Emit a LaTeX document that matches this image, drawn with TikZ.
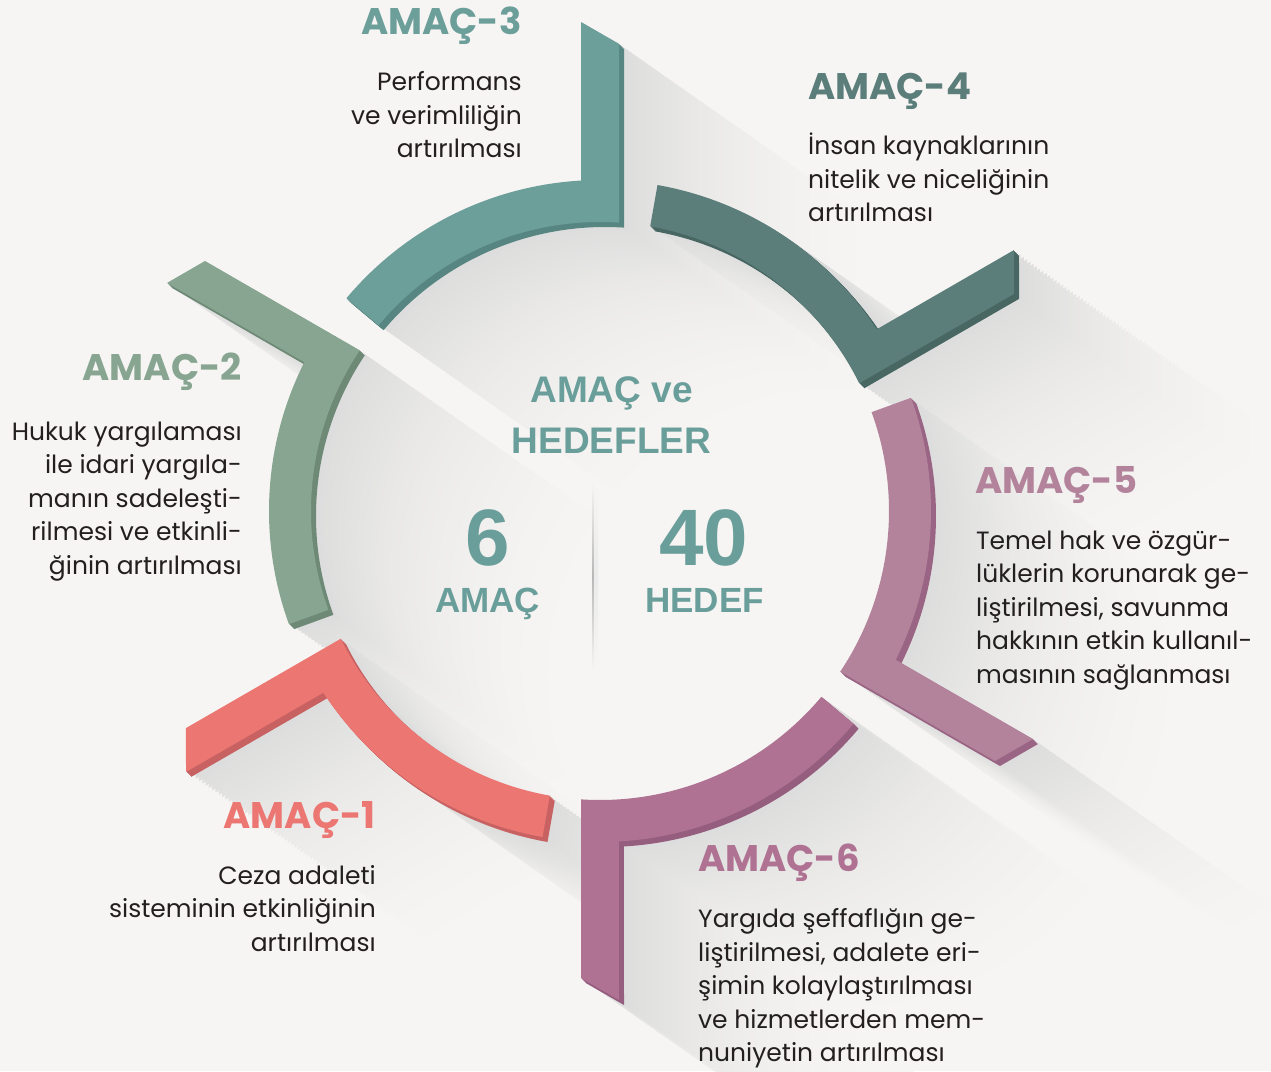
\documentclass[tikz,border=0pt]{standalone}
\usepackage{fontspec}
\setmainfont{Poppins}
\newfontfamily\numfont{Liberation Sans}
\definecolor{bg}{HTML}{F6F5F3}
\definecolor{shadowc}{HTML}{DCDCDC}
\definecolor{txt}{HTML}{231F20}
\definecolor{ctrc}{HTML}{6A9E9A}
\definecolor{cA}{HTML}{EC7672}\definecolor{dA}{HTML}{C86262}
\definecolor{cB}{HTML}{87A591}\definecolor{dB}{HTML}{6E8A77}
\definecolor{cC}{HTML}{6C9E9A}\definecolor{dC}{HTML}{578682}
\definecolor{cD}{HTML}{5B7E7A}\definecolor{dD}{HTML}{486763}
\definecolor{cE}{HTML}{B2839B}\definecolor{dE}{HTML}{9A6484}
\definecolor{cF}{HTML}{AF7293}\definecolor{dF}{HTML}{955D7E}
\newcommand\segpath{(140:331) arc[start angle=140,end angle=93.29,radius=331] -- (-19,489) -- (19,467.1) -- (19,288.37) arc[start angle=86.23,end angle=140,radius=289] -- cycle}
\tikzset{
  body/.style={font=\fontsize{25}{29}\selectfont, text=txt, inner sep=0pt},
  head/.style={font=\bfseries\fontsize{37}{40}\selectfont, inner sep=0pt},
  ctrbig/.style={font=\numfont\bfseries\fontsize{37}{40}\selectfont, text=ctrc, inner sep=0pt},
  ctrnum/.style={font=\numfont\bfseries\fontsize{80}{84}\selectfont, text=ctrc, inner sep=0pt},
  ctrlab/.style={font=\numfont\bfseries\fontsize{35}{38}\selectfont, text=ctrc, inner sep=0pt}
}
\newcommand\segment[3]{%
  \foreach \k in {5,4,...,1}{\fill[#3, shift={(\k,-\k)}, rotate=#1-90] \segpath;}
  \fill[#2, rotate=#1-90] \segpath;}
\begin{document}
\begin{tikzpicture}[x=1pt,y=1pt]
\useasboundingbox (-600,511) rectangle (671,-560);
\fill[bg] (-600,511) rectangle (671,-560);
\begin{scope}
\clip (-600,511) rectangle (671,-560);
% long shadows
\foreach \i in {90,89,...,1}{
  \pgfmathtruncatemacro\pc{100*((1-(\i-1)/90)^2.2)}
  \colorlet{shc}{shadowc!\pc!bg}
  \foreach \a in {90,30,-30,-90,-150,150}{
    \fill[shc, shift={(\i*4*0.819,-\i*4*0.574)}, rotate=\a-90] \segpath;
  }
}
\end{scope}
% centre divider
\shade[top color=bg, bottom color=bg, middle color=black!28] (-7.5,28) rectangle (-5.5,-159);
\shade[top color=bg, bottom color=bg, middle color=black!8] (-5.5,28) rectangle (-2,-159);
% segments
\segment{-150}{cA}{dA}
\segment{150}{cB}{dB}
\segment{90}{cC}{dC}
\segment{30}{cD}{dD}
\segment{-30}{cE}{dE}
\segment{-90}{cF}{dF}
% centre text
\node[ctrbig, anchor=base] (c1) at (11.5,109) {AMAÇ ve};
\node[ctrbig, anchor=base] (c2) at (11.5,58) {HEDEFLER};
\node[ctrnum, anchor=base] (c3) at (-112.5,-54) {6};
\node[ctrlab, anchor=base] (c4) at (-112.5,-101) {AMAÇ};
\node[ctrnum, anchor=base] (c5) at (104,-54) {40};
\node[ctrlab, anchor=base] (c6) at (104.5,-101) {HEDEF};
% AMAC-3
\node[head, text=cC, anchor=base east] (h3) at (-78,476) {AMAÇ-3};
\node[body, anchor=base east] (b31) at (-78,420) {Performans};
\node[body, anchor=base east] (b32) at (-78,386.5) {ve verimliliğin};
\node[body, anchor=base east] (b33) at (-78,353) {artırılması};
% AMAC-4
\node[head, text=cD, anchor=base west] (h4) at (208,411) {AMAÇ-4};
\node[body, anchor=base west] (b41) at (208,356) {İnsan kaynaklarının};
\node[body, anchor=base west] (b42) at (208,322.7) {nitelik ve niceliğinin};
\node[body, anchor=base west] (b43) at (208,289.3) {artırılması};
% AMAC-2
\node[head, text=cB, anchor=base east] (h2) at (-358,130) {AMAÇ-2};
\node[body, anchor=base east] (b21) at (-358,71) {Hukuk yargılaması};
\node[body, anchor=base east] (b22) at (-358,37.5) {ile idari yargıla-};
\node[body, anchor=base east] (b23) at (-358,4) {manın sadeleşti-};
\node[body, anchor=base east] (b24) at (-358,-29.5) {rilmesi ve etkinli-};
\node[body, anchor=base east] (b25) at (-358,-63) {ğinin artırılması};
% AMAC-5
\node[head, text=cE, anchor=base west] (h5) at (375,18) {AMAÇ-5};
\node[body, anchor=base west] (b51) at (376,-38) {Temel hak ve özgür-};
\node[body, anchor=base west] (b52) at (376,-71.5) {lüklerin korunarak ge-};
\node[body, anchor=base west] (b53) at (376,-105) {liştirilmesi, savunma};
\node[body, anchor=base west] (b54) at (376,-138.5) {hakkının etkin kullanıl-};
\node[body, anchor=base west] (b55) at (376,-172) {masının sağlanması};
% AMAC-1
\node[head, text=cA, anchor=base east] (h1) at (-224,-317) {AMAÇ-1};
\node[body, anchor=base east] (b11) at (-224,-373) {Ceza adaleti};
\node[body, anchor=base east] (b12) at (-224,-406.5) {sisteminin etkinliğinin};
\node[body, anchor=base east] (b13) at (-224,-440) {artırılması};
% AMAC-6
\node[head, text=cF, anchor=base west] (h6) at (98,-360) {AMAÇ-6};
\node[body, anchor=base west] (b61) at (98,-416) {Yargıda şeffaflığın ge-};
\node[body, anchor=base west] (b62) at (98,-450) {liştirilmesi, adalete eri-};
\node[body, anchor=base west] (b63) at (98,-483.5) {şimin kolaylaştırılması};
\node[body, anchor=base west] (b64) at (98,-517) {ve hizmetlerden mem-};
\node[body, anchor=base west] (b65) at (98,-550.5) {nuniyetin artırılması};
\end{tikzpicture}
\end{document}
